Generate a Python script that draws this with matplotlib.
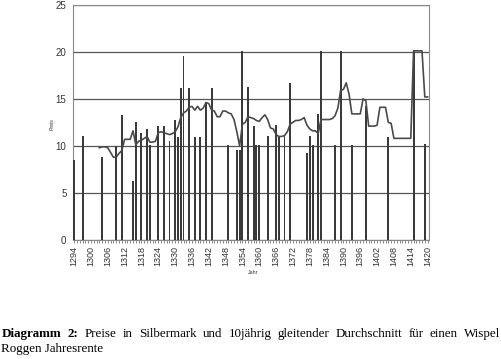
import matplotlib
matplotlib.use("Agg")
import matplotlib.pyplot as plt
import numpy as np

# price observations (year, Silbermark)
bar_years = [1294, 1297, 1304, 1309, 1311, 1315, 1316, 1318, 1320, 1321, 1324, 1326,
             1328, 1330, 1331, 1332, 1333, 1335, 1337, 1339, 1341, 1343, 1349, 1352,
             1353, 1354, 1356, 1358, 1359, 1360, 1363, 1366, 1367, 1369, 1371, 1377,
             1378, 1379, 1381, 1382, 1387, 1389, 1393, 1398, 1406, 1415, 1419]
bar_values = [8.5, 11.0, 8.8, 10.0, 13.3, 6.3, 12.5, 11.4, 11.8, 10.1, 12.1, 12.1,
              10.5, 12.7, 10.9, 16.1, 19.6, 16.1, 10.9, 10.9, 14.7, 16.1, 10.1, 9.6,
              9.6, 20.1, 16.3, 12.1, 10.1, 10.1, 11.0, 12.2, 11.1, 11.0, 16.7, 9.2,
              11.1, 10.1, 13.4, 20.1, 10.1, 20.1, 10.1, 14.2, 10.9, 20.1, 10.2]

# 10-year moving average
ma_years = list(range(1303, 1421))
ma_values = [9.8, 9.9, 9.9, 9.8, 9.3, 8.8, 8.8, 9.2, 9.5, 10.7,
             10.7, 10.7, 11.6, 10.1, 10.5, 10.6, 10.8, 11.0, 10.4, 10.4,
             10.5, 11.4, 11.5, 11.4, 11.3, 11.2, 11.3, 11.5, 12.0, 13.0,
             13.5, 13.7, 14.1, 14.2, 13.8, 14.2, 13.8, 14.0, 14.6, 14.5,
             13.8, 13.7, 13.1, 13.1, 13.7, 13.7, 13.5, 13.4, 12.8, 11.5,
             10.0, 12.3, 12.5, 13.1, 13.0, 12.9, 12.7, 12.6, 13.0, 13.3,
             12.8, 11.9, 11.8, 11.2, 11.0, 11.0, 11.1, 11.5, 12.3, 12.5,
             12.7, 12.7, 12.8, 13.0, 12.2, 11.8, 11.6, 11.6, 11.3, 12.8,
             12.8, 12.8, 12.8, 12.9, 13.2, 14.0, 15.9, 16.0, 16.7, 15.5,
             13.4, 13.4, 13.4, 13.4, 15.0, 14.8, 12.1, 12.1, 12.1, 12.2,
             14.1, 14.1, 14.1, 12.5, 12.4, 10.8, 10.8, 10.8, 10.8, 10.8,
             10.8, 10.8, 20.1, 20.1, 20.1, 20.1, 15.2, 15.2]

label_years = list(range(1294, 1421, 6))
y_ticks = [0, 5, 10, 15, 20, 25]

W, H = 502, 359
fig = plt.figure(figsize=(W / 100, H / 100), dpi=100)
ax = fig.add_axes([72.7 / W, 1 - 240 / H, (429 - 72.7) / W, (240 - 4.7) / H])

ax.bar(bar_years, bar_values, width=0.7, color="#3a3a3a", zorder=3)
ax.plot(ma_years, ma_values, color="#4a4a4a", lw=1.2, zorder=4)

ax.set_xlim(1293.5, 1420.5)
ax.set_ylim(0, 25)
ax.set_yticks(y_ticks)
ax.set_yticklabels([str(v) for v in y_ticks], fontsize=7, family="Liberation Sans",
                   color="#333333")
ax.tick_params(axis="y", length=0, pad=4.5)
ax.set_xticks(label_years)
ax.set_xticklabels([str(v) for v in label_years], rotation=90, fontsize=6.5,
                   family="Liberation Sans", color="#333333")
ax.set_xticks(range(1294, 1421), minor=True)
ax.tick_params(axis="x", which="both", length=2.5, width=0.6, color="#777777",
               direction="out", pad=2)
ax.grid(axis="y", color="#555555", lw=0.9, zorder=1)
for s in ax.spines.values():
    s.set_color("#888888")
    s.set_linewidth(0.8)

fig.text(253 / W, 1 - 272 / H, "Jahr", fontsize=3.8, family="Liberation Sans",
         ha="center", va="center", color="#333333")
fig.text(52 / W, 1 - 124 / H, "Preis", fontsize=3.8, family="Liberation Sans",
         ha="center", va="center", rotation=90, color="#333333")

# justified caption
fig.canvas.draw()
renderer = fig.canvas.get_renderer()
cap_size = 9.4
line1 = [("Diagramm", "bold"), ("2:", "bold"), ("Preise", "normal"), ("in", "normal"),
         ("Silbermark", "normal"), ("und", "normal"), ("10jährig", "normal"),
         ("gleitender", "normal"), ("Durchschnitt", "normal"), ("für", "normal"),
         ("einen", "normal"), ("Wispel", "normal")]
x0, x1 = 1.5, 500.5
texts = []
widths = []
y1 = 1 - 337 / H
for w, wt in line1:
    t = fig.text(0, y1, w, fontsize=cap_size, family="Liberation Serif",
                 fontweight=wt, ha="left", va="baseline")
    texts.append(t)
    widths.append(t.get_window_extent(renderer).width)
gap = (x1 - x0 - sum(widths)) / (len(widths) - 1)
xp = x0
for t, wd in zip(texts, widths):
    t.set_x(xp / W)
    xp += wd + gap
fig.text(x0 / W, 1 - 352 / H, "Roggen Jahresrente", fontsize=cap_size,
         family="Liberation Serif", ha="left", va="baseline")

fig.savefig("out.png", dpi=100)
